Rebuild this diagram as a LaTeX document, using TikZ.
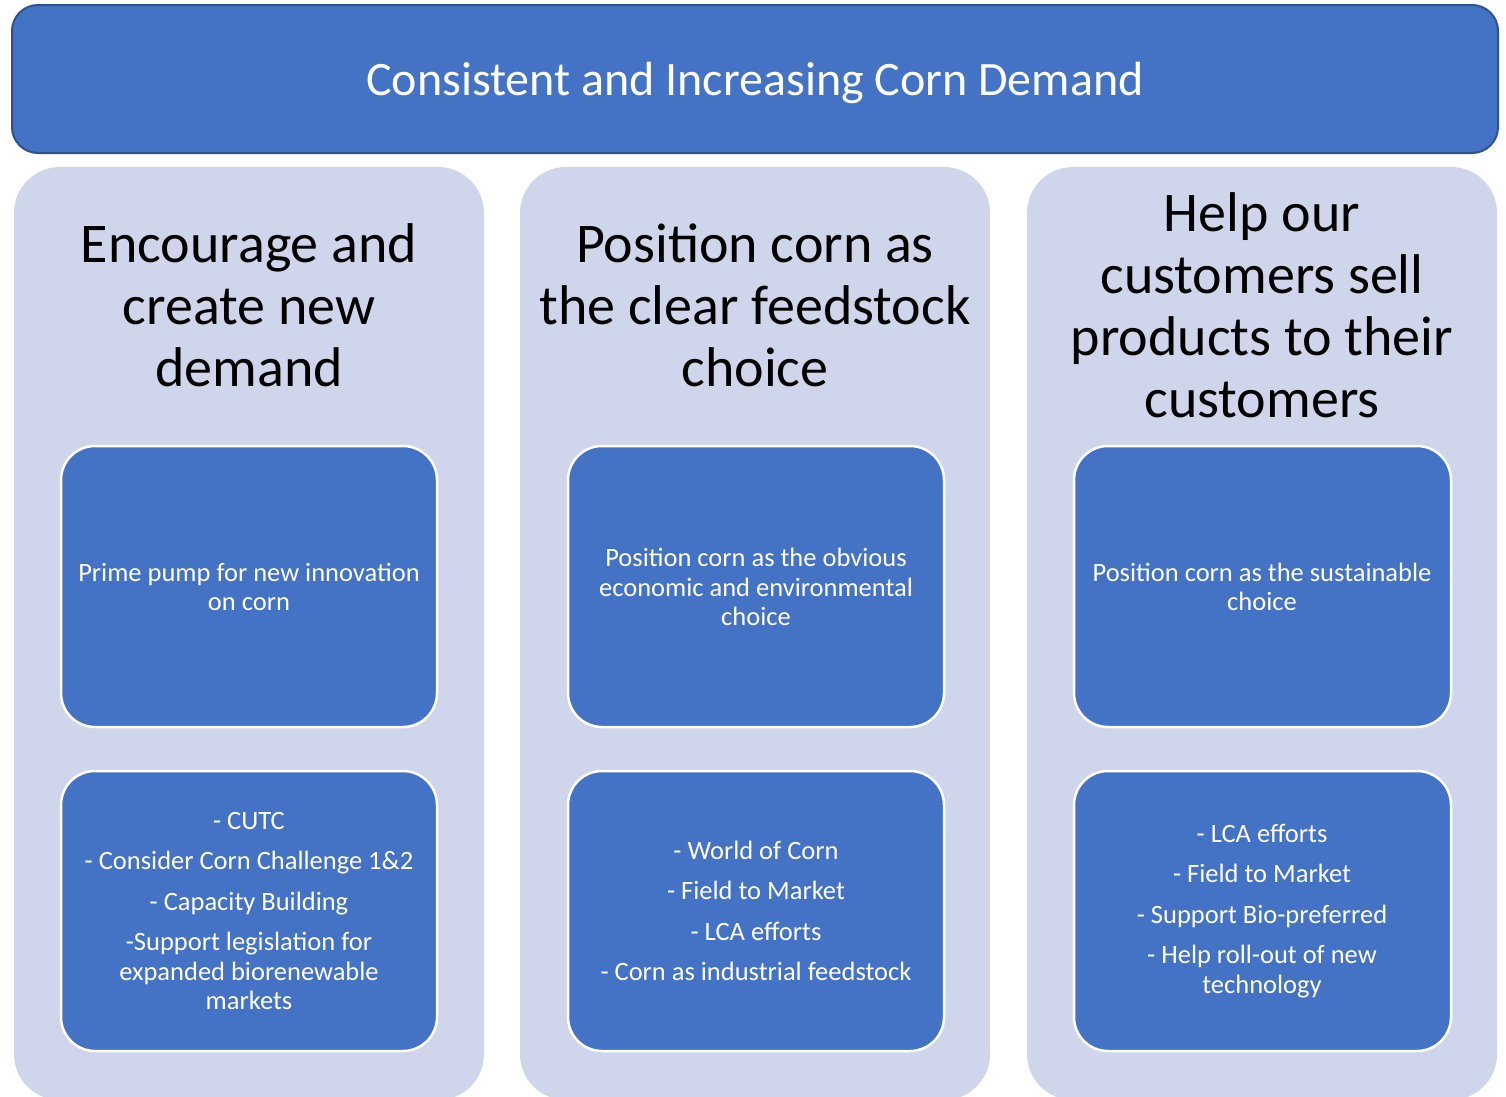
\documentclass[tikz,border=0pt]{standalone}
\usepackage{fontspec}
\setmainfont{Carlito}
\definecolor{bandblue}{HTML}{4472C4}
\definecolor{banddark}{HTML}{2F528F}
\definecolor{panelgray}{HTML}{CFD5EA}
\begin{document}
\begin{tikzpicture}[x=1pt,y=-1pt,
  banner/.style={draw=banddark, line width=2pt, fill=bandblue, rounded corners=26pt},
  panel/.style={fill=panelgray, rounded corners=46pt},
  heading/.style={text=black, align=center, font=\fontsize{56}{62}\selectfont},
  card/.style={draw=white, line width=2.5pt, fill=bandblue, rounded corners=34pt},
  cardtext/.style={text=white, align=center, font=\fontsize{26.5}{29.5}\selectfont},
]
\useasboundingbox (0,0) rectangle (1506,1096);
\fill[white] (0,0) rectangle (1506,1096);

% top banner
\draw[banner] (12,5) rectangle (1498,153);
\node (top) at (755,83) [text=white, font=\fontsize{48}{56}\selectfont] {Consistent and Increasing Corn Demand};

% three columns
\fill[panel] (14,167) rectangle (484,1100);
\fill[panel] (520,167) rectangle (990,1100);
\fill[panel] (1027,167) rectangle (1497,1100);

% column headings
\node[heading] (head1) at (249,305) {Encourage and\\create new\\demand};
\node[heading] (head2) at (755,305) {Position corn as\\the clear feedstock\\choice};
\node[heading] (head3) at (1262,305) {Help our\\customers sell\\products to their\\customers};

% middle cards
\draw[card] (61,446) rectangle (437,727);
\draw[card] (568,446) rectangle (944,727);
\draw[card] (1074,446) rectangle (1451,727);
\node[cardtext] (mid1) at (249,587) {Prime pump for new innovation\\on corn};
\node[cardtext] (mid2) at (756,587) {Position corn as the obvious\\economic and environmental\\choice};
\node[cardtext] (mid3) at (1262,587) {Position corn as the sustainable\\choice};

% lower cards
\draw[card] (61,771) rectangle (437,1051);
\draw[card] (568,771) rectangle (944,1051);
\draw[card] (1074,771) rectangle (1451,1051);
\node[cardtext] (bot1) at (249,911) {- CUTC\\[11pt]- Consider Corn Challenge 1\&2\\[11pt]- Capacity Building\\[11pt]-Support legislation for\\expanded biorenewable\\markets};
\node[cardtext] (bot2) at (756,911) {- World of Corn\\[11pt]- Field to Market\\[11pt]- LCA efforts\\[11pt]- Corn as industrial feedstock};
\node[cardtext] (bot3) at (1262,911) {- LCA efforts\\[11pt]- Field to Market\\[11pt]- Support Bio-preferred\\[11pt]- Help roll-out of new\\technology};
\end{tikzpicture}
\end{document}
